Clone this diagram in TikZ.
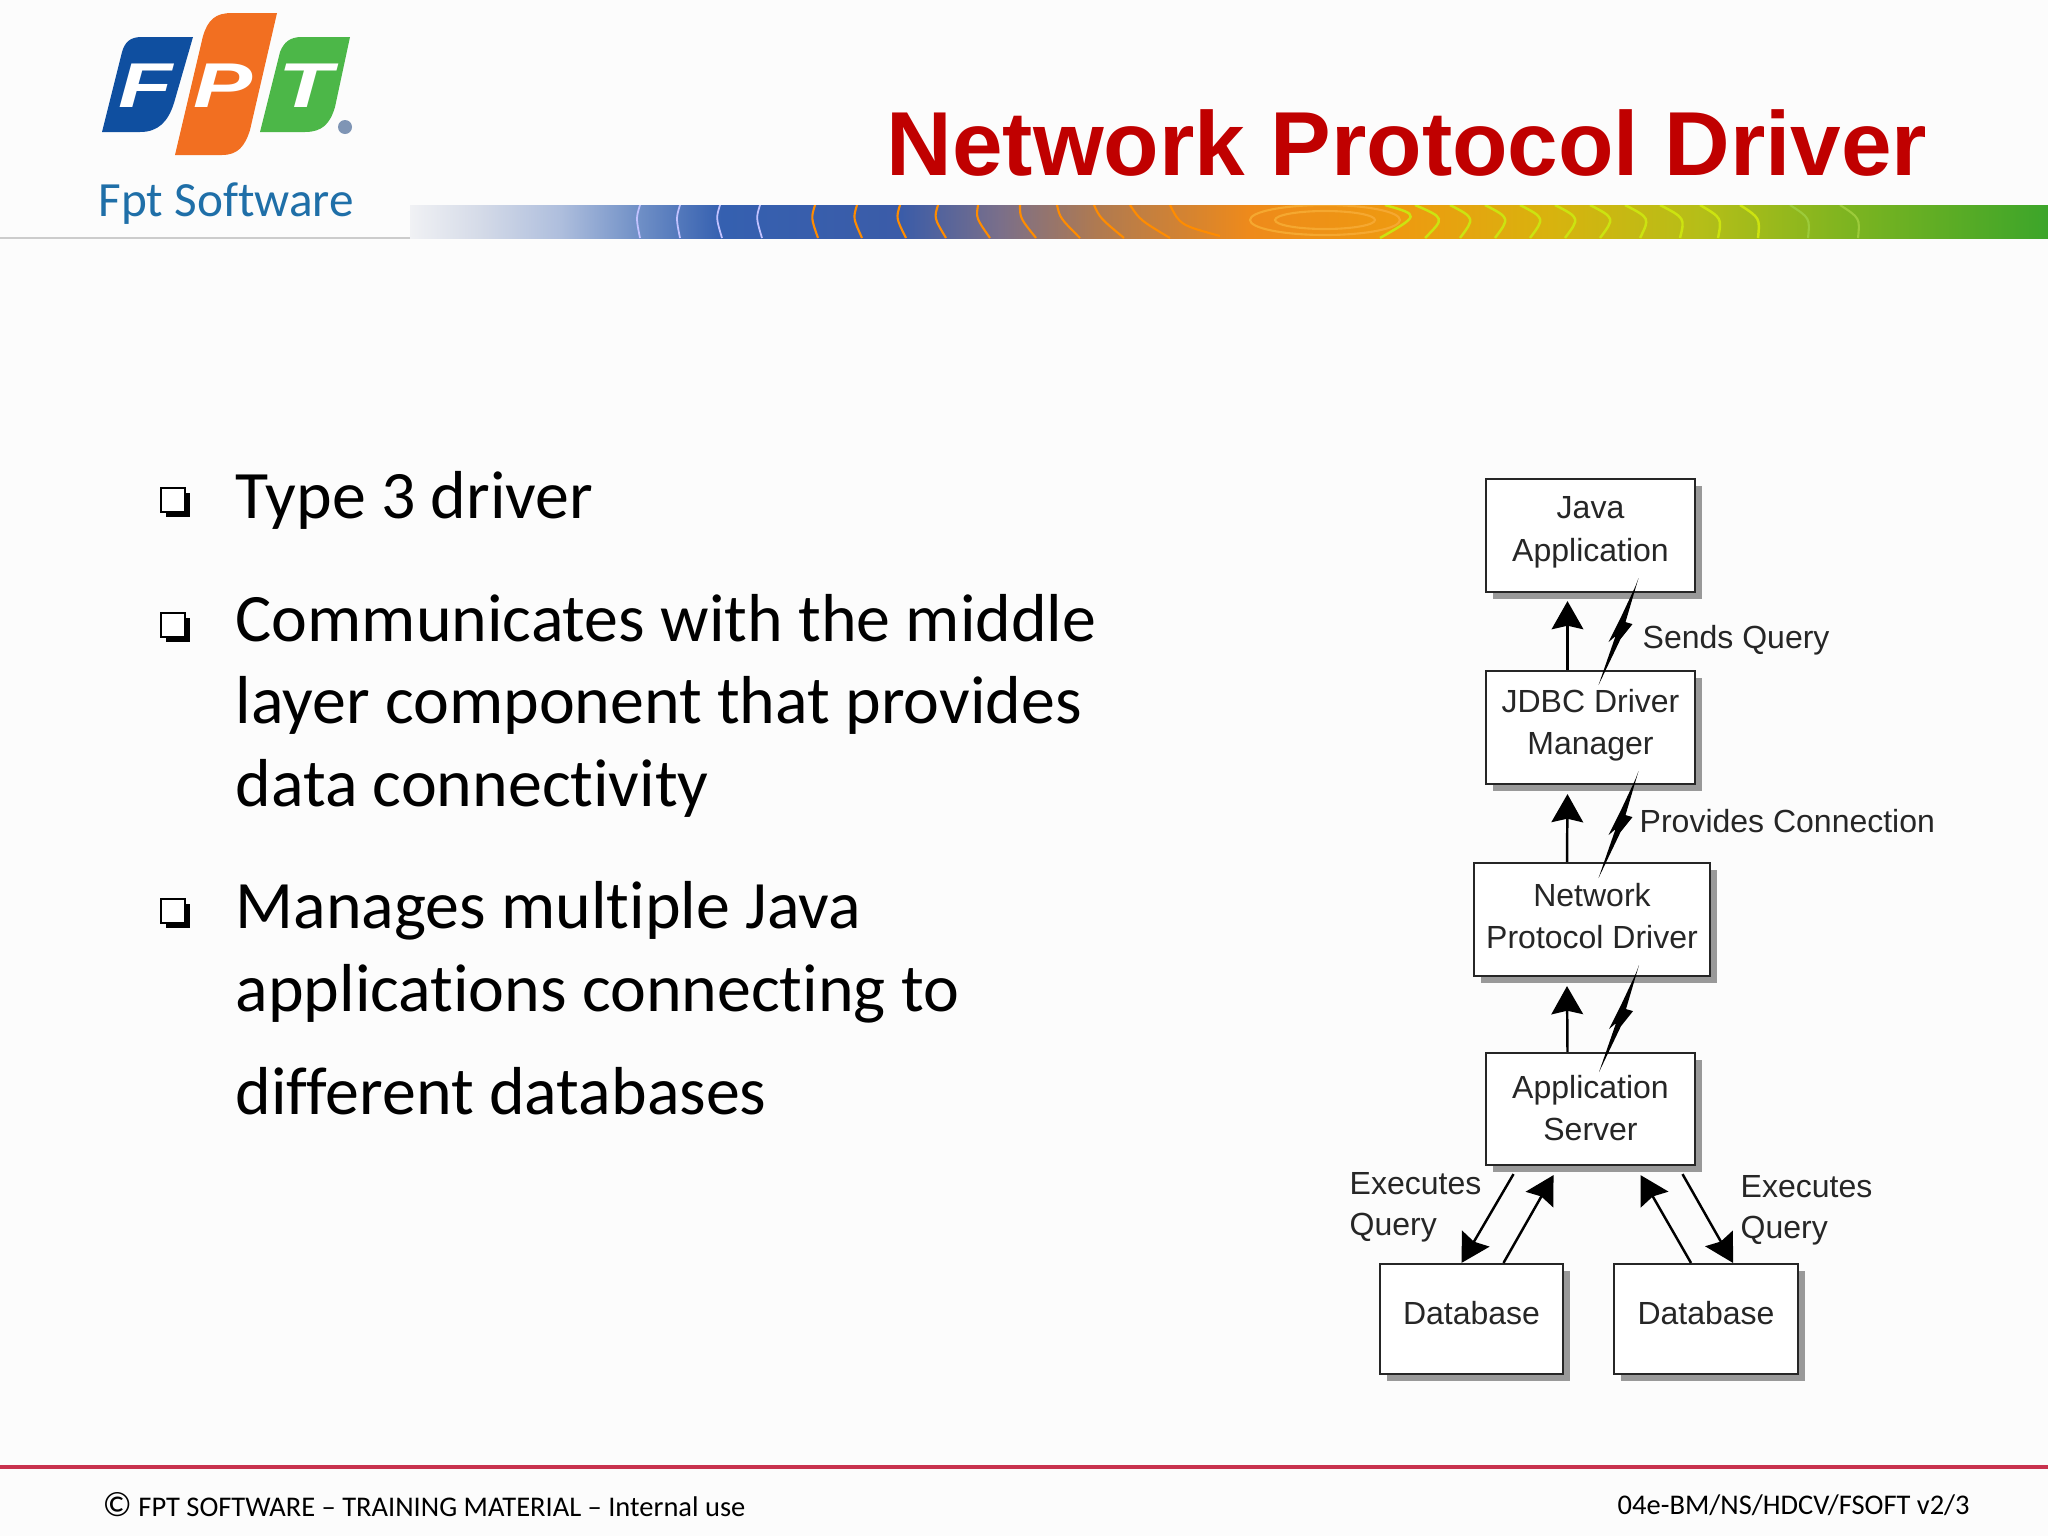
\documentclass[tikz,border=0pt]{standalone}
\usepackage{fontspec}
\setmainfont[Ligatures = NoCommon]{Carlito}
\newfontfamily\arialfont{Liberation Sans}
\usetikzlibrary{arrows.meta, calc, shadows}

\definecolor{titlered}{HTML}{C00000}
\definecolor{logoblue}{HTML}{0F4FA0}
\definecolor{logoorange}{HTML}{F26F21}
\definecolor{logogreen}{HTML}{4CB748}
\definecolor{logotext}{HTML}{1F6FA8}
\definecolor{logodot}{HTML}{7F95B5}
\definecolor{footred}{HTML}{C8324E}
\definecolor{barA}{HTML}{F0F1F4}
\definecolor{barB}{HTML}{D5DBE8}
\definecolor{barC}{HTML}{AEBEDD}
\definecolor{barD}{HTML}{6F8FC6}
\definecolor{barE}{HTML}{3560B0}
\definecolor{barF}{HTML}{3B5CA8}
\definecolor{barG}{HTML}{7A6F8A}
\definecolor{barH}{HTML}{B07A50}
\definecolor{barI}{HTML}{EE8A1B}
\definecolor{barJ}{HTML}{EE9A10}
\definecolor{barK}{HTML}{D8B30E}
\definecolor{barL}{HTML}{B5BE18}
\definecolor{barM}{HTML}{7DB420}
\definecolor{barN}{HTML}{3CA52A}
\definecolor{ridgecore}{HTML}{F5A830}
\definecolor{ridgegreen}{HTML}{9CCB3A}
\pgfdeclarehorizontalshading{barshade}{100bp}{color(0bp)=(barA); color(25bp)=(barA); color(27.1bp)=(barB); color(29.6bp)=(barC); color(32bp)=(barD); color(34.5bp)=(barE); color(40bp)=(barF); color(43bp)=(barG); color(46bp)=(barH); color(50.6bp)=(barI); color(55.2bp)=(barJ); color(59.8bp)=(barK); color(64.4bp)=(barL); color(68.9bp)=(barM); color(75bp)=(barN); color(100bp)=(barN)}

\tikzset{
  flowbox/.style = {draw = black!85, fill = white, line width = 0.6pt, align = center, text depth = 3.7pt,
    font = \arialfont\fontsize{9.1}{12}\selectfont, text = black!85,
    drop shadow = {shadow xshift = 2pt, shadow yshift = -2pt, fill = black!40, opacity = 1}},
  flowlabel/.style = {anchor = base west, inner sep = 0pt, text = black!85,
    font = \arialfont\fontsize{9.1}{12}\selectfont},
  flowarrow/.style = {line width = 0.7pt, black, -{Stealth[length = 8pt, width = 9pt, inset = 1pt]}},
  squarebullet/.style = {draw = black, fill = white, line width = 0.4pt, minimum size = 0.24cm, inner sep = 0pt,
    general shadow = {shadow xshift = 1.4pt, shadow yshift = -1.4pt, fill = black}},
  bodyline/.style = {anchor = base west, inner sep = 0pt, font = \fontsize{19.3}{24}\selectfont},
  footline/.style = {anchor = base west, inner sep = 0pt, font = \fontsize{8.1}{10}\selectfont},
  logoletter/.style = {text = white, inner sep = 0pt, transform shape, xscale = 1.4,
    font = \arialfont\bfseries\itshape\fontsize{18}{18}\selectfont},
  ridge/.style = {line width = 0.6pt, draw = orange!90!yellow},
  ridgey/.style = {line width = 0.7pt, draw = yellow!80!green},
  ridgeb/.style = {line width = 0.5pt, draw = white!40!blue!40},
  ridgec/.style = {line width = 0.6pt, draw = ridgecore},
  ridgeg/.style = {line width = 0.6pt, draw = ridgegreen}
}

\newcommand{\boltfrom}[1]{\fill[black] (#1) -- ++(-13, 44) -- ++(7, 2) -- ++(-12, 15) -- ++(-22, 46) -- ++(17, -49) -- ++(-7, 6) -- ++(12, -24) -- ++(15, -32) -- cycle;}

\begin{document}
\begin{tikzpicture}[x = 0.01cm, y = -0.01cm]
\useasboundingbox (0, 0) rectangle (2048, 1536);
\fill[black!1] (0, 0) rectangle (2048, 1536);

% logo
\fill[logoblue] (193, 37) -- (174, 103) .. controls (168, 122) and (158, 132) .. (140, 132) -- (102, 132) -- (122, 52) .. controls (125, 42) and (130, 37) .. (142, 37) -- cycle;
\fill[logoorange] (277, 13) -- (250, 130) .. controls (245, 146) and (238, 155) .. (222, 155) -- (175, 155) -- (203, 36) .. controls (208, 20) and (215, 13) .. (232, 13) -- cycle;
\fill[logogreen] (350, 37) -- (335, 107) .. controls (330, 124) and (322, 132) .. (305, 132) -- (260, 132) -- (280, 52) .. controls (284, 42) and (290, 37) .. (302, 37) -- cycle;
\fill[logodot] (345, 127) circle (7);
\node[logoletter] at (146, 86) (letterF) {F};
\node[logoletter] at (223, 86) (letterP) {P};
\node[logoletter] at (306, 86) (letterT) {T};
\node[anchor = base west, inner sep = 0pt, text = logotext, font = \fontsize{14}{16}\selectfont] at (98, 216) (logoname) {Fpt Software};

% title and bar
\node[anchor = base west, inner sep = 0pt, text = titlered, font = \arialfont\bfseries\fontsize{25.85}{30}\selectfont] at (886, 175) (title) {Network Protocol Driver};
\draw[black!20, line width = 0.5pt] (0, 238) -- (410, 238);
\begin{scope}
\clip (410, 205) rectangle (2048, 238);
\shade[shading = barshade] (410, 205) rectangle (2048, 238);
\draw[ridgeb] (640, 205) .. controls (636, 218) .. (640, 238);
\draw[ridgeb] (680, 205) .. controls (676, 218) .. (680, 238);
\draw[ridgeb] (720, 205) .. controls (716, 218) .. (722, 238);
\draw[ridgeb] (760, 205) .. controls (756, 218) .. (762, 238);
\draw[ridge] (815, 205) .. controls (811, 218) .. (818, 238);
\draw[ridge] (857, 205) .. controls (853, 218) .. (862, 238);
\draw[ridge] (900, 205) .. controls (896, 218) .. (906, 238);
\draw[ridge] (938, 205) .. controls (934, 218) .. (946, 238);
\draw[ridge] (978, 205) .. controls (976, 218) .. (990, 238);
\draw[ridge] (1020, 205) .. controls (1020, 218) .. (1036, 238);
\draw[ridge] (1057, 205) .. controls (1060, 218) .. (1080, 238);
\draw[ridge] (1094, 205) .. controls (1100, 218) .. (1124, 238);
\draw[ridge] (1130, 205) .. controls (1140, 220) .. (1170, 238);
\draw[ridge] (1170, 205) .. controls (1180, 225) .. (1220, 236);
\draw[ridgec] (1325, 220) ellipse (50 and 9);
\draw[ridgec] (1325, 220) ellipse (75 and 15);
\draw[ridgey] (1385, 205) .. controls (1420, 215) .. (1380, 238);
\draw[ridgey] (1415, 205) .. controls (1445, 218) .. (1425, 238);
\draw[ridgey] (1450, 205) .. controls (1475, 218) .. (1460, 238);
\draw[ridgey] (1485, 205) .. controls (1510, 218) .. (1495, 238);
\draw[ridgey] (1520, 205) .. controls (1545, 218) .. (1530, 238);
\draw[ridgey] (1555, 205) .. controls (1580, 218) .. (1565, 238);
\draw[ridgey] (1590, 205) .. controls (1615, 218) .. (1600, 238);
\draw[ridgey] (1625, 205) .. controls (1650, 218) .. (1640, 238);
\draw[ridgey] (1660, 205) .. controls (1685, 218) .. (1680, 238);
\draw[ridgey] (1700, 205) .. controls (1722, 218) .. (1718, 238);
\draw[ridgey] (1740, 205) .. controls (1760, 218) .. (1758, 238);
\draw[ridgeg] (1790, 205) .. controls (1810, 218) .. (1808, 238);
\draw[ridgeg] (1840, 205) .. controls (1860, 218) .. (1858, 238);
\end{scope}

% left text
\node[squarebullet] at (173, 500) (bulletA) {};
\node[squarebullet] at (173, 625) (bulletB) {};
\node[squarebullet] at (173, 911) (bulletC) {};
\node[bodyline] at (235, 518) (lineA) {Type 3 driver};
\node[bodyline] at (235, 641) (lineB) {Communicates with the middle};
\node[bodyline] at (235, 723) (lineC) {layer component that provides};
\node[bodyline] at (235, 806) (lineD) {data connectivity};
\node[bodyline] at (235, 928) (lineE) {Manages multiple Java};
\node[bodyline] at (235, 1011) (lineF) {applications connecting to};
\node[bodyline] at (235, 1114) (lineG) {different databases};

% flow boxes
\node[flowbox, minimum width = 2.09cm, minimum height = 1.13cm] at (1590.5, 535.5) (java) {Java\\Application};
\node[flowbox, text depth = 3pt, minimum width = 2.09cm, minimum height = 1.13cm] at (1590.5, 727.5) (jdbc) {JDBC Driver\\Manager};
\node[flowbox, text depth = 2.2pt, minimum width = 2.36cm, minimum height = 1.13cm] at (1592, 919.5) (network) {Network\\Protocol Driver};
\node[flowbox, text depth = 0.7pt, minimum width = 2.09cm, minimum height = 1.12cm] at (1590.5, 1109) (server) {Application\\Server};
\node[flowbox, minimum width = 1.83cm, minimum height = 1.1cm] at (1471.5, 1319) (dbleft) {Database};
\node[flowbox, minimum width = 1.84cm, minimum height = 1.1cm] at (1706, 1319) (dbright) {Database};

\draw[flowarrow] ($(jdbc.north) + (-23, 0)$) -- ($(java.south) + (-23, 8)$);
\draw[flowarrow] ($(network.north) + (-25, 0)$) -- ($(jdbc.south) + (-23, 9)$);
\draw[flowarrow] ($(server.north) + (-23, 0)$) -- ($(network.south) + (-25, 9)$);
\boltfrom{$(java.south) + (48, -15)$}
\boltfrom{$(jdbc.south) + (48, -14)$}
\boltfrom{$(network.south) + (47, -12)$}

\draw[flowarrow] ($(server.south) + (-77, 8)$) -- ($(dbleft.north) + (-10, 0)$);
\draw[flowarrow] ($(dbleft.north) + (32, 0)$) -- ($(server.south) + (-37, 9)$);
\draw[flowarrow] ($(dbright.north) + (-15, 0)$) -- ($(server.south) + (50, 9)$);
\draw[flowarrow] ($(server.south) + (92, 8)$) -- ($(dbright.north) + (27, 0)$);

\node[flowlabel] at (1642, 648) (sends) {Sends Query};
\node[flowlabel] at (1639, 832) (provides) {Provides Connection};
\node[flowlabel] at (1349, 1194) (execleft) {Executes};
\node[flowlabel] at (1349, 1235) (queryleft) {Query};
\node[flowlabel] at (1740, 1197) (execright) {Executes};
\node[flowlabel] at (1740, 1238) (queryright) {Query};

% footer
\draw[footred, line width = 0.9pt] (0, 1467) -- (2048, 1467);
\node[footline] at (102, 1516) (footleft) {{\fontsize{10}{10}\selectfont\textcopyright} FPT SOFTWARE -- TRAINING MATERIAL -- Internal use};
\node[footline] at (1617, 1514) (footright) {04e-BM/NS/HDCV/FSOFT v2/3};

\end{tikzpicture}
\end{document}
